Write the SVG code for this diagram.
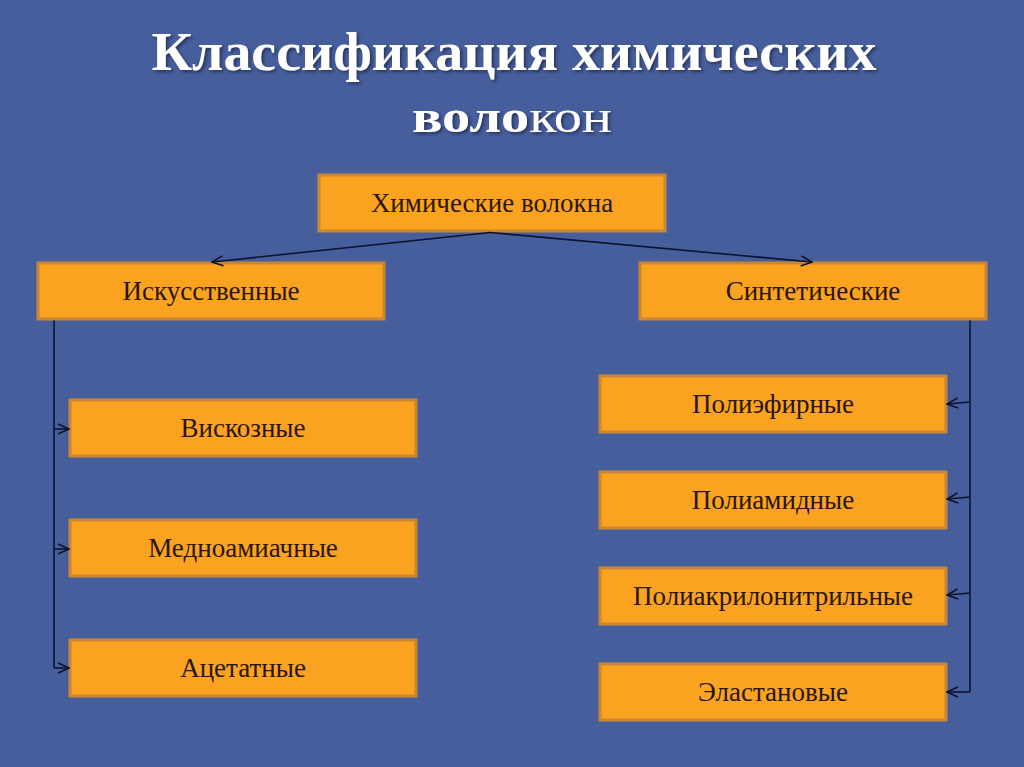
<svg xmlns="http://www.w3.org/2000/svg" width="1024" height="767" viewBox="0 0 1024 767">
<defs>
<style>
.box{fill:#F9A320;stroke:#CC8530;stroke-width:3}
.lbl{font-family:"Liberation Serif","DejaVu Serif",serif;font-size:27px;fill:#2A1608;text-anchor:middle}
.title{font-family:"Liberation Serif","DejaVu Serif",serif;font-weight:bold;fill:#FFFFFF;text-anchor:middle}
.conn{fill:none;stroke:#0D1430;stroke-width:1.6}
</style>
<marker id="arr" viewBox="0 0 14 14" refX="13" refY="7" markerWidth="14" markerHeight="14" markerUnits="userSpaceOnUse" orient="auto">
<path d="M2,2 L13,7 L2,12" fill="none" stroke="#0D1430" stroke-width="1.6"/>
</marker>
<filter id="sh" x="-5%" y="-20%" width="110%" height="140%">
<feDropShadow dx="2" dy="2" stdDeviation="1.5" flood-color="#1a2340" flood-opacity="0.7"/>
</filter>
</defs>
<rect width="1024" height="767" fill="#465E9C"/>
<g id="title" filter="url(#sh)">
<text class="title" x="514" y="70" font-size="54" textLength="725" lengthAdjust="spacingAndGlyphs">Классификация химических</text>
<text class="title" x="512" y="132" font-size="46" textLength="200" lengthAdjust="spacingAndGlyphs">воло<tspan font-weight="normal">кон</tspan></text>
</g>
<g id="n-root"><rect class="box" x="319" y="175" width="346" height="56"/><text class="lbl" x="492" y="212">Химические волокна</text></g>
<g id="n-art"><rect class="box" x="38" y="263" width="346" height="56"/><text class="lbl" x="211" y="300">Искусственные</text></g>
<g id="n-syn"><rect class="box" x="640" y="263" width="346" height="56"/><text class="lbl" x="813" y="300">Синтетические</text></g>
<g id="n-visc"><rect class="box" x="70" y="400" width="346" height="56"/><text class="lbl" x="243" y="437">Вискозные</text></g>
<g id="n-cupr"><rect class="box" x="70" y="520" width="346" height="56"/><text class="lbl" x="243" y="557">Медноамиачные</text></g>
<g id="n-acet"><rect class="box" x="70" y="640" width="346" height="56"/><text class="lbl" x="243" y="677">Ацетатные</text></g>
<g id="n-pes"><rect class="box" x="600" y="376" width="346" height="56"/><text class="lbl" x="773" y="413">Полиэфирные</text></g>
<g id="n-pa"><rect class="box" x="600" y="472" width="346" height="56"/><text class="lbl" x="773" y="509">Полиамидные</text></g>
<g id="n-pan"><rect class="box" x="600" y="568" width="346" height="56"/><text class="lbl" x="773" y="605">Полиакрилонитрильные</text></g>
<g id="n-el"><rect class="box" x="600" y="664" width="346" height="56"/><text class="lbl" x="773" y="701">Эластановые</text></g>
<g id="connectors">
<path class="conn" d="M490,232.5 L212,262" marker-end="url(#arr)"/>
<path class="conn" d="M490,232.5 L812,262" marker-end="url(#arr)"/>
<path class="conn" d="M54,320.5 L54,668"/>
<path class="conn" d="M54,429 L69,429" marker-end="url(#arr)"/>
<path class="conn" d="M54,549 L69,549" marker-end="url(#arr)"/>
<path class="conn" d="M54,668 L69,668" marker-end="url(#arr)"/>
<path class="conn" d="M970,320.5 L970,692"/>
<path class="conn" d="M970,402 L947,404" marker-end="url(#arr)"/>
<path class="conn" d="M970,497 L947,499" marker-end="url(#arr)"/>
<path class="conn" d="M970,593 L947,595" marker-end="url(#arr)"/>
<path class="conn" d="M970,692 L947,692" marker-end="url(#arr)"/>
</g>
</svg>
